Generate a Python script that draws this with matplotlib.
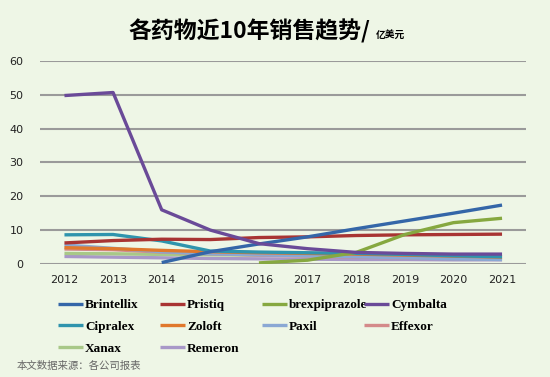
import matplotlib
matplotlib.use("Agg")
import matplotlib.pyplot as plt
import numpy as np

years = ["2012", "2013", "2014", "2015", "2016", "2017", "2018", "2019", "2020", "2021"]
nan = np.nan
brintellix = [nan, nan, 0.4, 3.6, 5.9, 8.0, 10.4, 12.7, 15.0, 17.4]
pristiq = [6.2, 6.9, 7.3, 7.2, 7.8, 8.0, 8.4, 8.6, 8.7, 8.8]
brexpiprazole = [nan, nan, nan, nan, 0.3, 1.1, 3.4, 8.7, 12.2, 13.5]
cymbalta = [49.8, 50.7, 16.0, 10.0, 6.0, 4.5, 3.4, 3.1, 2.9, 2.9]
cipralex = [8.6, 8.7, 6.8, 3.8, 3.5, 3.3, 3.1, 2.8, 2.4, 2.1]
zoloft = [4.8, 4.5, 4.0, 3.6, 3.3, 3.1, 2.9, 2.6, 2.3, 2.0]
paxil = [5.6, 4.6, 3.6, 3.0, 2.7, 2.4, 2.1, 1.8, 1.5, 1.3]
effexor = [4.4, 4.2, 3.5, 3.0, 2.6, 2.3, 2.0, 1.8, 1.6, 1.5]
xanax = [3.1, 3.0, 2.8, 2.7, 2.6, 2.5, 2.4, 2.3, 2.2, 2.2]
remeron = [2.2, 2.0, 1.8, 1.6, 1.5, 1.4, 1.3, 1.3, 1.2, 1.2]

names = ["Brintellix", "Pristiq", "brexpiprazole", "Cymbalta", "Cipralex",
         "Zoloft", "Paxil", "Effexor", "Xanax", "Remeron"]
series = [brintellix, pristiq, brexpiprazole, cymbalta, cipralex,
          zoloft, paxil, effexor, xanax, remeron]
colors = ["#3466a8", "#a83433", "#86a840", "#6a4a98", "#2f94ad",
          "#e0782c", "#8aa8d4", "#d48a8a", "#a8c888", "#a898c8"]

bg = "#eef6e6"
fig = plt.figure(figsize=(5.5, 3.77), dpi=100, facecolor=bg)
ax = fig.add_axes([0.073, 0.30, 0.884, 0.538], facecolor=bg)

x = np.arange(len(years))
order = [9, 8, 7, 6, 5, 4, 1, 2, 0, 3]
lines = {}
for i in order:
    ln, = ax.plot(x, series[i], color=colors[i], lw=2.4, solid_capstyle='butt', zorder=3)
    lines[i] = ln

ax.set_xlim(-0.5, 9.5)
ax.set_ylim(0, 60)
ax.set_yticks(range(0, 61, 10))
ax.set_xticks(x)
ax.set_xticklabels(years)
ax.grid(axis='y', color='#9a9a9a', lw=1.5, zorder=0)
ax.set_axisbelow(True)
for s in ax.spines.values():
    s.set_visible(False)
ax.tick_params(length=0, labelsize=8, colors='#222222', pad=8)
ax.tick_params(axis='y', pad=12)

# legend: 4 fixed-width columns, row-major order
col_x = [58, 160, 262, 364]
for c in range(4):
    idx = [i for i in range(10) if i % 4 == c]
    fig.legend([lines[i] for i in idx], [names[i] for i in idx],
               loc='upper left', bbox_to_anchor=(col_x[c] / 550, 1 - 299 / 377),
               frameon=False, handlelength=1.9, handletextpad=0.15,
               labelspacing=0.72, borderpad=0, borderaxespad=0,
               prop={'family': 'Liberation Serif', 'weight': 'bold', 'size': 9.5})

fig.text(0.233, 0.918, "各药物近10年销售趋势/", ha='left', va='center',
         fontsize=16.5, fontweight='bold', family=['Noto Sans CJK SC', 'DejaVu Sans'])
fig.text(0.683, 0.908, "亿美元", ha='left', va='center', fontsize=7, fontweight='bold',
         family=['Noto Sans CJK SC'])
fig.text(0.03, 0.03, "本文数据来源：各公司报表", ha='left', va='center', fontsize=7.5,
         color='#666666', family=['Noto Sans CJK SC'])

fig.savefig("out.png", dpi=100, facecolor=bg)
